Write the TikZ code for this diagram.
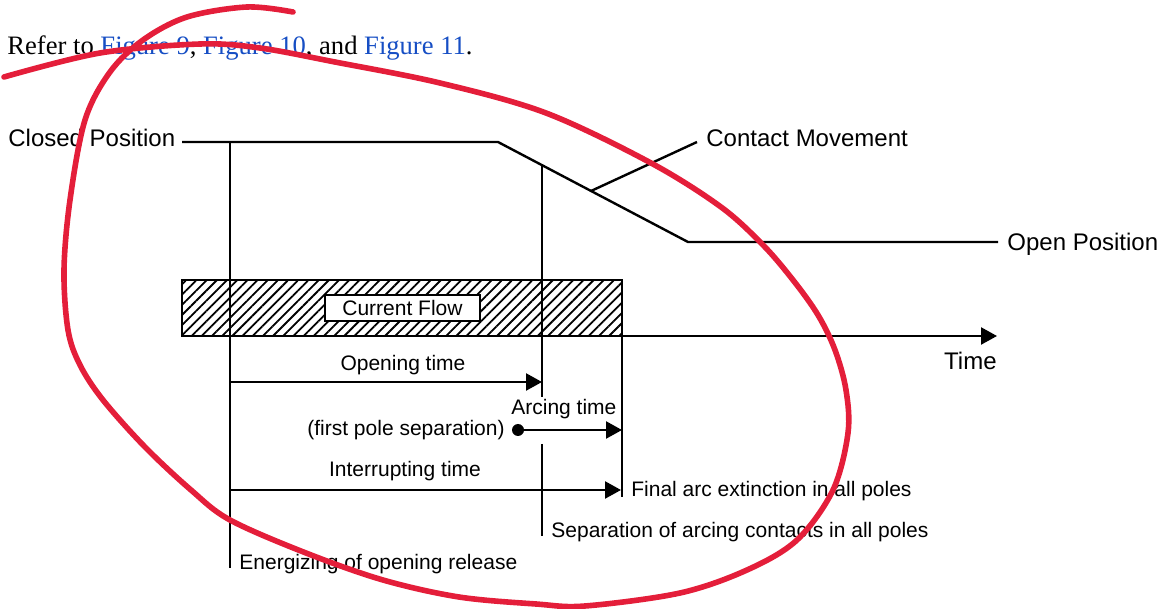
\documentclass[tikz,border=0pt]{standalone}
\usepackage{fontspec}
\setmainfont{Liberation Sans}
\newfontfamily\reffont{Liberation Serif}
\usepackage{xcolor}
\usetikzlibrary{arrows.meta}
\usetikzlibrary{patterns.meta}

\definecolor{linkblue}{RGB}{22,78,196}
\definecolor{markred}{RGB}{228,30,58}

\tikzset{
  biglbl/.style={inner sep=0pt, font=\fontsize{12}{14}\selectfont},
  smalllbl/.style={inner sep=0pt, font=\fontsize{10.5}{12}\selectfont},
  tline/.style={line width=1.2pt},
  tarrow/.style={tline, -{Triangle[length=8pt,width=8.5pt]}},
  flowbox/.style={draw, fill=white, line width=0.9pt, inner sep=0pt,
    minimum width=77.5pt, minimum height=13pt, font=\fontsize{10.5}{12}\selectfont},
}

\begin{document}
\begin{tikzpicture}[x=0.5pt,y=-0.5pt]
\useasboundingbox (0,0) rectangle (1164,609);

% text line above the figure
\node[inner sep=0pt, anchor=base west, font=\reffont\fontsize{13.3}{16}\selectfont] (refer) at (7,55)
  {Refer to \textcolor{linkblue}{Figure 9}, \textcolor{linkblue}{Figure 10}, and \textcolor{linkblue}{Figure 11}.};

% contact movement
\node[biglbl, anchor=base west] (closed) at (8,147) {Closed Position};
\node[biglbl, anchor=base west] (open) at (1007,251) {Open Position};
\node[biglbl, anchor=base west] (movement) at (706,147) {Contact Movement};
\coordinate (closedend) at (182,142);
\coordinate (kneeA) at (498,142);
\coordinate (kneeB) at (688,242);
\coordinate (openend) at (998,242);
\draw[tline] (closedend) -- (kneeA) -- (kneeB) -- (openend);
\coordinate (leadfoot) at (591,191);
\coordinate (leadtop) at (697,142);
\draw[tline] (leadfoot) -- (leadtop);

% current flow band and time axis
\draw[tline, pattern={Lines[angle=45,distance=3.6pt,line width=0.9pt]}] (182,280) rectangle (622,336);
\node[flowbox] (flow) at (402.5,308) {Current Flow};
\coordinate (axisstart) at (182,336);
\coordinate (axisend) at (997,336);
\draw[tarrow] (axisstart) -- (axisend);
\node[biglbl, anchor=base east] (time) at (997,370) {Time};

% event lines
\coordinate (energtop) at (230,142);
\coordinate (energbot) at (230,568);
\coordinate (septop) at (542,165.2);
\coordinate (sepmid) at (542,397);
\coordinate (sepgap) at (542,444);
\coordinate (sepbot) at (542,536);
\coordinate (exttop) at (622,280);
\coordinate (extbot) at (622,497);
\draw[tline] (energtop) -- (energbot);
\draw[tline] (septop) -- (sepmid);
\draw[tline] (sepgap) -- (sepbot);
\draw[tline] (exttop) -- (extbot);

% time intervals
\coordinate (openA) at (230,382);
\coordinate (openB) at (542,382);
\draw[tarrow] (openA) -- (openB);
\node[smalllbl, anchor=base] (openlbl) at (403,371) {Opening time};

\fill (518,430) circle (3pt) coordinate (firstpole);
\coordinate (arcB) at (622,430);
\draw[tarrow] (firstpole) -- (arcB);
\node[smalllbl, anchor=base west] (arclbl) at (511,415) {Arcing time};
\node[smalllbl, anchor=base east] (polelbl) at (505,436) {(first pole separation)};

\coordinate (intA) at (230,490);
\coordinate (intB) at (621,490);
\draw[tarrow] (intA) -- (intB);
\node[smalllbl, anchor=base] (intlbl) at (405,477) {Interrupting time};

\node[smalllbl, anchor=base west] (final) at (631,497) {Final arc extinction in all poles};
\node[smalllbl, anchor=base west] (separation) at (551,538) {Separation of arcing contacts in all poles};
\node[smalllbl, anchor=base west] (energizing) at (239,570) {Energizing of opening release};

% red hand-drawn mark
\draw[markred, line width=2.8pt, line cap=round] plot[smooth, tension=0.55] coordinates {
  (293,12) (247,7) (187,17) (143,40) (110,72) (85,120) (70,200) (64,270)
  (68,330) (80,365) (103,400) (145,447) (191,490) (230,520) (306,553)
  (383,580) (459,597) (536,604) (585,606) (680,593) (747,570) (797,540)
  (833,490) (848,433) (846,390) (835,350) (818,315) (793,280) (763,245)
  (721,207) (651,163) (546,113) (440,83) (335,62) (260,48) (200,44)
  (100,53) (4,77)};
\end{tikzpicture}
\end{document}
